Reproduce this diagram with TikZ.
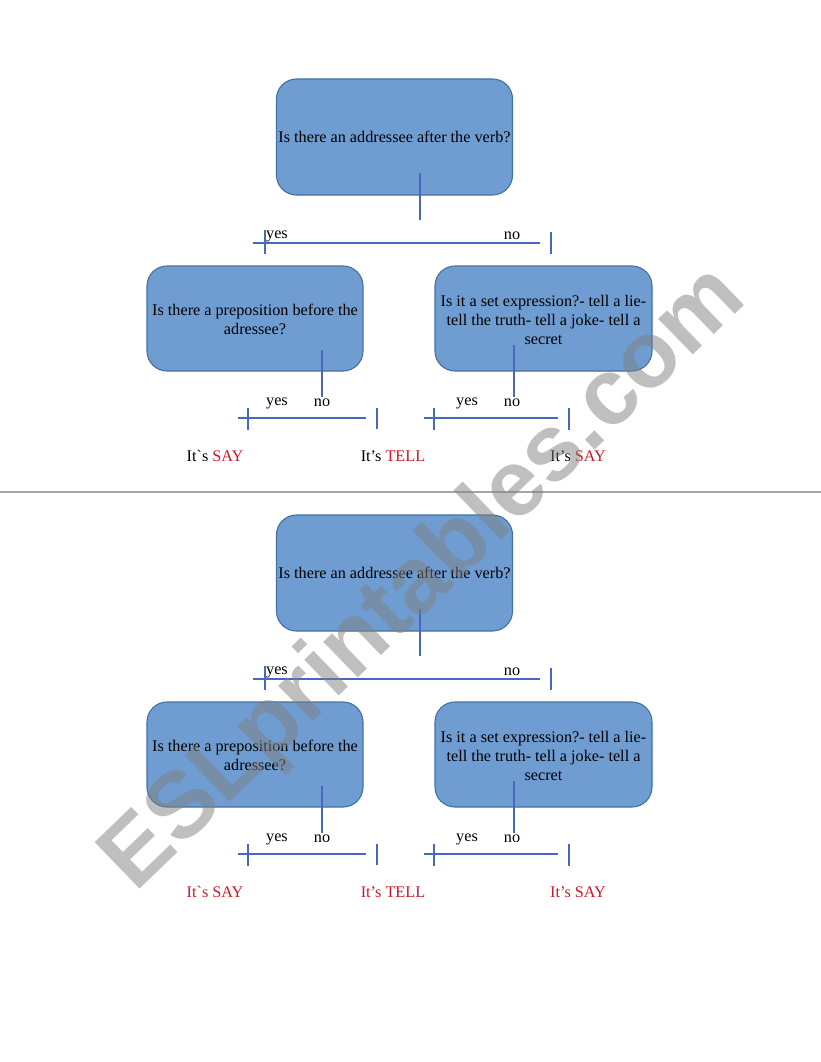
\documentclass[tikz,border=0pt]{standalone}
\usepackage{fontspec}
\setmainfont{Liberation Serif}
\newfontfamily\wmfont{Liberation Sans}
\definecolor{boxfill}{RGB}{111,157,210}
\definecolor{boxline}{RGB}{65,113,160}
\definecolor{conn}{RGB}{68,105,190}
\definecolor{redtxt}{RGB}{200,25,40}
\definecolor{sepgray}{RGB}{165,165,165}
\tikzset{
  qbox/.style={draw=boxline, line width=1.1pt, fill=boxfill, rounded corners=20pt, align=center, inner sep=2pt, font=\fontsize{16.2}{19}\selectfont},
  conline/.style={draw=conn, line width=1.3pt},
  lbl/.style={font=\fontsize{16.2}{19}\selectfont, inner sep=0pt},
}
\newcommand\halfchart[3]{%
  % #1 = vertical offset, #2 = name prefix, #3 = colour of "It's"
  \node[qbox, minimum width=235pt, minimum height=116pt] (#2top) at (394.5,137+#1) {Is there an addressee after the verb?};
  \coordinate (#2s0a) at (420,173+#1); \coordinate (#2s0b) at (420,220+#1);
  \draw[conline] (#2s0a) -- (#2s0b);
  \coordinate (#2h0a) at (253,243+#1); \coordinate (#2h0b) at (540,243+#1);
  \draw[conline] (#2h0a) -- (#2h0b);
  \coordinate (#2t0a) at (265,230+#1); \coordinate (#2t0b) at (265,254+#1);
  \draw[conline] (#2t0a) -- (#2t0b);
  \coordinate (#2t1a) at (551,232+#1); \coordinate (#2t1b) at (551,254+#1);
  \draw[conline] (#2t1a) -- (#2t1b);
  \node[lbl, anchor=west] (#2yes0) at (266,236+#1) {yes};
  \node[lbl] (#2no0) at (512,236+#1) {no};
  %
  \node[qbox, minimum width=216pt, minimum height=105pt] (#2left) at (255,318.5+#1) {};
  \node[lbl, align=center] (#2lefttxt) at (255,319+#1) {Is there a preposition before the\\adressee?};
  \coordinate (#2s1a) at (322,350+#1); \coordinate (#2s1b) at (322,397+#1);
  \draw[conline] (#2s1a) -- (#2s1b);
  \node[lbl] (#2yes1) at (277,403+#1) {yes};
  \node[lbl] (#2no1) at (322,403+#1) {no};
  \coordinate (#2h1a) at (238,418+#1); \coordinate (#2h1b) at (366,418+#1);
  \draw[conline] (#2h1a) -- (#2h1b);
  \coordinate (#2t2a) at (248,408+#1); \coordinate (#2t2b) at (248,430+#1);
  \draw[conline] (#2t2a) -- (#2t2b);
  \coordinate (#2t3a) at (377,408+#1); \coordinate (#2t3b) at (377,429+#1);
  \draw[conline] (#2t3a) -- (#2t3b);
  \node[lbl] (#2say1) at (215,456+#1) {\textcolor{#3}{It\textasciigrave s} \textcolor{redtxt}{SAY}};
  \node[lbl] (#2tell) at (393,456+#1) {\textcolor{#3}{It’s} \textcolor{redtxt}{TELL}};
  %
  \node[qbox, minimum width=217pt, minimum height=105pt] (#2right) at (543.5,318.5+#1) {};
  \node[lbl, align=center] (#2righttxt) at (543.5,320+#1) {Is it a set expression?- tell a lie-\\tell the truth- tell a joke- tell a\\secret};
  \coordinate (#2s2a) at (514,345+#1); \coordinate (#2s2b) at (514,397+#1);
  \draw[conline] (#2s2a) -- (#2s2b);
  \node[lbl] (#2yes2) at (467,403+#1) {yes};
  \node[lbl] (#2no2) at (512,403+#1) {no};
  \coordinate (#2h2a) at (424,418+#1); \coordinate (#2h2b) at (558,418+#1);
  \draw[conline] (#2h2a) -- (#2h2b);
  \coordinate (#2t4a) at (434,408+#1); \coordinate (#2t4b) at (434,430+#1);
  \draw[conline] (#2t4a) -- (#2t4b);
  \coordinate (#2t5a) at (569,408+#1); \coordinate (#2t5b) at (569,430+#1);
  \draw[conline] (#2t5a) -- (#2t5b);
  \node[lbl] (#2say2) at (578,456+#1) {\textcolor{#3}{It’s} \textcolor{redtxt}{SAY}};
}
\begin{document}
\begin{tikzpicture}[x=1pt,y=-1pt]
  \useasboundingbox[fill=white] (0,0) rectangle (821,1062);
  \halfchart{0}{A}{black}
  \coordinate (sepL) at (0,492); \coordinate (sepR) at (821,492);
  \draw[sepgray, line width=2pt] (sepL) -- (sepR);
  \halfchart{436}{B}{redtxt}
  \node[rotate=44, opacity=0.5, text=black!50, font=\wmfont\bfseries\fontsize{94}{94}\selectfont, inner sep=0pt] (wm) at (425,580) {ESLprintables.com};
\end{tikzpicture}
\end{document}
